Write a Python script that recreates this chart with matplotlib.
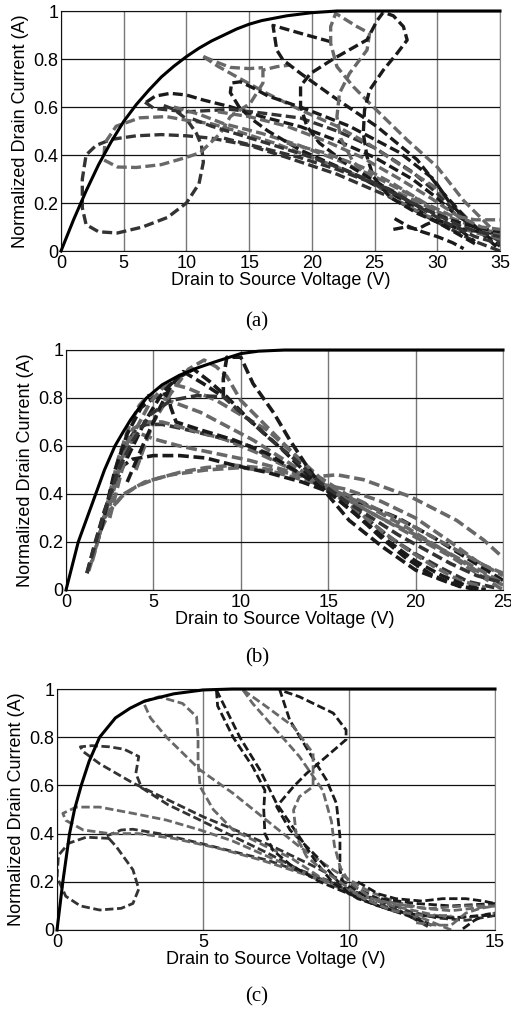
import numpy as np
import matplotlib.pyplot as plt

# -----------------------------
# Panel (a) data: V_DS (V) vs normalized I_D
# -----------------------------
a_solid_v = [0, 1, 2, 3, 4, 5, 6, 7, 8, 9, 10, 11, 12, 13, 14, 15, 16, 18, 20, 22, 35]
a_solid_i = [0, 0.13, 0.25, 0.36, 0.455, 0.54, 0.61, 0.67, 0.725, 0.77, 0.81, 0.845, 0.875, 0.9,
             0.925, 0.945, 0.96, 0.98, 0.993, 1, 1]

a_d1 = [(35, 0.0), (33, 0.04), (30, 0.12), (26, 0.23), (22, 0.32), (18, 0.39), (15, 0.44), (12, 0.47),
        (10, 0.48), (8, 0.485), (6, 0.48), (4, 0.465), (2.8, 0.44), (2, 0.4), (1.7, 0.3), (1.7, 0.18),
        (2, 0.11), (3, 0.08), (4.5, 0.075), (6.5, 0.1), (8.5, 0.14), (10, 0.2), (11, 0.28), (11.35, 0.37),
        (11.2, 0.44), (10.8, 0.49), (10, 0.55), (9, 0.59), (8, 0.61)]
a_g1 = [(35, 0.07), (33, 0.1), (31, 0.14), (27, 0.24), (22, 0.35), (17, 0.45), (14, 0.5), (12, 0.53),
        (10, 0.545), (8.4, 0.56), (6.3, 0.555), (4.4, 0.52), (3.5, 0.45), (3.4, 0.38), (4.5, 0.35),
        (6, 0.348), (8, 0.36), (10, 0.39), (11.1, 0.41), (12.7, 0.49), (13.5, 0.56), (15.1, 0.616),
        (16.1, 0.7), (16.1, 0.754), (17.2, 0.768), (18.3, 0.775)]
a_d2 = [(6.8, 0.62), (7.5, 0.645), (8.7, 0.657), (10, 0.65), (11.35, 0.629), (13.5, 0.601), (16, 0.56),
        (19.1, 0.518), (22, 0.46), (25, 0.39), (28, 0.3), (30, 0.22), (31.5, 0.15), (33, 0.1), (35, 0.06)]
a_d2b = [(6.7, 0.62), (7.4, 0.594), (10, 0.58), (13.5, 0.59), (16, 0.575), (19.1, 0.554), (22, 0.5),
         (25, 0.43), (28, 0.33), (30, 0.24), (31.5, 0.16), (33, 0.1), (35, 0.04)]
a_g2 = [(11.35, 0.81), (12.5, 0.77), (14, 0.726), (16.4, 0.657), (19.1, 0.5875), (22, 0.52), (24.4, 0.45),
        (27, 0.36), (29.7, 0.27), (31.5, 0.18), (33.1, 0.1), (35, 0.07)]
a_g2b = [(11.35, 0.81), (12.5, 0.785), (13.5, 0.765), (15, 0.76), (16.1, 0.764)]
a_g3 = [(9, 0.6), (11, 0.57), (13, 0.53), (16, 0.49), (19, 0.44), (22, 0.38), (25, 0.31), (28, 0.23),
        (31, 0.13), (33, 0.08), (35, 0.05)]
a_d3 = [(33, 0.03), (30, 0.12), (27, 0.22), (23, 0.33), (19.1, 0.42), (16.5, 0.5), (15.3, 0.546),
        (14.2, 0.6), (13.5, 0.66), (13.6, 0.7), (14.3, 0.705), (15.3, 0.68), (16.5, 0.646), (19.6, 0.59),
        (23, 0.52), (27, 0.41), (29.7, 0.3), (31, 0.2), (32.3, 0.13), (35, 0.02)]
a_d4 = [(21.5, 0.872), (19.1, 0.907), (16.9, 0.94), (17.2, 0.8375), (17.7, 0.796), (19.1, 0.74),
        (21.7, 0.643), (25.2, 0.518), (28.4, 0.38), (30.5, 0.24), (32.4, 0.13), (34.7, 0.018)]
a_g4 = [(34.2, 0.1), (32.1, 0.21), (30, 0.35), (27.6, 0.4625), (24.9, 0.6), (23.3, 0.685), (22, 0.768),
        (21.5, 0.865), (21.5, 0.935), (21.9, 0.99), (23.6, 0.935), (24.6, 0.907), (24.4, 0.8375),
        (23, 0.74), (22.2, 0.657), (22, 0.56), (22.3, 0.47), (23.2, 0.38), (24.5, 0.3), (26.5, 0.22),
        (29, 0.15), (31.5, 0.1), (33.5, 0.07), (35, 0.06)]
a_d5 = [(33.5, 0.08), (32, 0.09), (30, 0.12), (28.4, 0.157), (26.2, 0.225), (24.9, 0.31), (24.4, 0.393),
        (24.1, 0.49), (24.2, 0.5875), (24.6, 0.67), (25.7, 0.754), (26.8, 0.824), (27.6, 0.879),
        (27.3, 0.935), (26.5, 0.98), (25.7, 0.995), (25.2, 0.96), (24.4, 0.88), (21.7, 0.8), (19.9, 0.74),
        (19.1, 0.6875), (19.1, 0.604), (19.6, 0.52), (20.6, 0.45), (23, 0.354), (25.7, 0.27),
        (28.4, 0.1875), (31, 0.13), (33, 0.1), (35, 0.08)]
a_d6 = [(26.5, 0.09), (27.5, 0.1), (28.4, 0.09), (29.1, 0.11), (30, 0.13), (31, 0.11), (32, 0.08), (33, 0.04)]
a_d7 = [(26.6, 0.135), (27.6, 0.105), (28.8, 0.08), (30, 0.06), (31.2, 0.035), (32.1, 0.01)]
a_d8 = [(10.5, 0.55), (12, 0.52), (14.5, 0.48), (17, 0.44), (20, 0.39), (23, 0.33), (26, 0.26),
        (29, 0.17), (31, 0.11), (33, 0.06), (35, 0.03)]
a_g5 = [(12.5, 0.58), (15, 0.56), (18, 0.52), (21, 0.46), (24, 0.39), (27, 0.3), (29.5, 0.22),
        (31.5, 0.15), (33.5, 0.1), (35, 0.09)]
a_d9 = [(13, 0.47), (16, 0.43), (19, 0.39), (22, 0.34), (25, 0.28), (28, 0.2), (30, 0.15), (32, 0.1),
        (34, 0.07), (35, 0.06)]
a_g6 = [(18, 0.45), (21, 0.41), (24, 0.35), (26.5, 0.28), (29, 0.2), (31, 0.15), (33, 0.13), (35, 0.13)]

# -----------------------------
# Panel (b) data
# -----------------------------
b_solid_v = [0, 0.35, 0.7, 1.2, 1.7, 2.2, 2.8, 3.2, 3.7, 4.1, 4.6, 5.5, 6.5, 7.5, 8.5, 10, 11, 12.5, 25]
b_solid_i = [0, 0.1, 0.2, 0.3, 0.4, 0.5, 0.6, 0.65, 0.71, 0.75, 0.8, 0.855, 0.895, 0.925, 0.95, 0.985,
             0.995, 1, 1]

b_c1 = [(2.0, 0.25), (2.5, 0.33), (3.2, 0.39), (4, 0.43), (5, 0.46), (6.5, 0.49), (8, 0.51), (9.6, 0.52),
        (11, 0.51), (12.5, 0.49), (14, 0.47), (15.5, 0.48), (17, 0.46), (19.7, 0.389), (22.35, 0.29),
        (23.9, 0.208), (25, 0.135)]
b_c2 = [(2.2, 0.3), (2.6, 0.34), (3.3, 0.4), (4.5, 0.45), (6, 0.48), (8, 0.5), (10, 0.51), (12, 0.49),
        (14, 0.45), (16, 0.42), (18, 0.37), (20, 0.3), (22, 0.2), (23.5, 0.12), (25, 0.06)]
b_c3 = [(1.2, 0.07), (1.6, 0.18), (2.2, 0.33), (2.8, 0.44), (3.3, 0.52), (3.8, 0.545), (5, 0.56),
        (6.5, 0.56), (8, 0.55), (9.6, 0.52), (11.5, 0.49), (13.5, 0.45), (15, 0.41), (17, 0.36),
        (19, 0.3), (21, 0.22), (23, 0.13), (25, 0.04)]
b_c4 = [(1.5, 0.12), (2.0, 0.25), (2.6, 0.4), (3.2, 0.55), (3.8, 0.63), (4.3, 0.65), (5, 0.63),
        (6.5, 0.6), (8.5, 0.57), (10.5, 0.54), (12.5, 0.5), (14, 0.46), (15.5, 0.41), (17.5, 0.34),
        (19.5, 0.26), (21.5, 0.17), (23.5, 0.08), (25, 0.02)]
b_c5 = [(1.8, 0.2), (2.5, 0.4), (3.2, 0.58), (4, 0.67), (4.6, 0.69), (5.5, 0.69), (6.5, 0.675),
        (8.5, 0.64), (10.5, 0.6), (12.5, 0.52), (14, 0.46), (15.5, 0.39), (17, 0.31), (18.5, 0.22),
        (20, 0.15), (21.5, 0.09), (23, 0.035), (24.5, 0.01)]
b_c6 = [(2.5, 0.35), (3.2, 0.55), (3.8, 0.67), (4.5, 0.7), (5.5, 0.7), (7, 0.67), (9, 0.63), (11, 0.57),
        (13, 0.5), (14.5, 0.44), (16, 0.38), (18, 0.3), (20, 0.22), (22, 0.14), (23.5, 0.07), (25, 0.0)]
b_c7 = [(1.3, 0.08), (1.8, 0.2), (2.4, 0.37), (3, 0.55), (3.6, 0.68), (4.2, 0.77), (4.7, 0.81),
        (5.5, 0.8), (7.7, 0.74), (10.7, 0.625), (13.4, 0.5), (15, 0.42), (16.5, 0.34), (18, 0.25),
        (19.5, 0.17), (21, 0.1), (22.5, 0.04), (24, 0.01)]
b_c8 = [(2.0, 0.25), (2.8, 0.5), (3.5, 0.65), (4.3, 0.76), (5, 0.8), (5.8, 0.82), (6.0, 0.76),
        (6.3, 0.7), (7.7, 0.667), (9.6, 0.625), (11.5, 0.57), (13.5, 0.48), (15, 0.41), (16.5, 0.32),
        (18, 0.22), (19.5, 0.13), (21, 0.06), (22.5, 0.015), (24, 0.0)]
b_c9 = [(2.5, 0.3), (3.2, 0.5), (4, 0.67), (4.8, 0.78), (5.5, 0.84), (6, 0.86), (7, 0.84), (8.6, 0.79),
        (10, 0.73), (11.5, 0.667), (13, 0.57), (14.5, 0.46), (16, 0.38), (18, 0.3), (20, 0.23),
        (22, 0.15), (24, 0.07), (25, 0.03)]
b_c10 = [(3.5, 0.55), (4.5, 0.7), (5.5, 0.82), (6.3, 0.88), (7.3, 0.92), (8.2, 0.87), (9.2, 0.805),
         (10.5, 0.708), (12.4, 0.583), (14, 0.47), (15.5, 0.38), (17, 0.29), (18.5, 0.2), (20, 0.12),
         (21.5, 0.06), (23, 0.015), (24, 0.0)]
b_c11 = [(4, 0.5), (5, 0.7), (6, 0.82), (7, 0.92), (7.9, 0.958), (8.6, 0.93), (9.2, 0.89), (10, 0.79),
         (11.5, 0.68), (13, 0.57), (14.5, 0.47), (16, 0.4), (18, 0.33), (20, 0.26), (22, 0.18),
         (24, 0.1), (25, 0.07)]
b_c12 = [(3.5, 0.45), (4.5, 0.62), (5.4, 0.764), (6.0, 0.85), (6.7, 0.91), (7.85, 0.86), (9.0, 0.805),
         (9.0, 0.88), (9.2, 0.97), (10.0, 0.97), (10.7, 0.86), (11.9, 0.736), (12.8, 0.625),
         (13.8, 0.514), (14.9, 0.403), (16.2, 0.29), (18.1, 0.18), (20, 0.083), (22, 0.028), (23.5, 0.0)]
b_c13 = [(1.2, 0.07), (1.7, 0.2), (2.3, 0.35), (3, 0.5), (3.8, 0.62), (4.8, 0.73), (6, 0.79),
         (7.5, 0.81), (9.0, 0.805), (10.3, 0.72), (11.5, 0.64), (13, 0.55), (14.5, 0.45), (16, 0.37),
         (17.5, 0.3), (19, 0.23), (20.5, 0.17), (22, 0.11), (23.5, 0.06), (25, 0.03)]

# -----------------------------
# Panel (c) data
# -----------------------------
c_solid_v = [0, 0.2, 0.43, 0.6, 0.83, 1.1, 1.46, 2, 2.5, 3, 4, 5, 6, 15]
c_solid_i = [0, 0.2, 0.4, 0.5, 0.6, 0.7, 0.8, 0.88, 0.92, 0.95, 0.98, 0.996, 1, 1]

c_c1 = [(1.8, 0.38), (1.0, 0.385), (0.4, 0.36), (0.05, 0.31), (0, 0.22), (0.3, 0.14), (0.8, 0.1),
        (1.46, 0.083), (2.2, 0.09), (2.6, 0.11), (2.8, 0.17), (2.6, 0.25), (2.03, 0.346), (1.7, 0.39),
        (2.2, 0.415), (2.6, 0.418), (3.5, 0.4), (4.9, 0.36), (7.2, 0.29), (9.46, 0.194), (10.6, 0.124),
        (12.3, 0.055), (12.9, 0.014)]
c_c2 = [(12.7, 0.014), (11.7, 0.083), (10.6, 0.14), (9.4, 0.2), (8.3, 0.25), (7.2, 0.32), (6, 0.39),
        (4.9, 0.456), (3.8, 0.52), (2.9, 0.59), (2.7, 0.65), (2.8, 0.72), (2.3, 0.75), (1.8, 0.76),
        (1.2, 0.765), (0.8, 0.76), (0.9, 0.74), (1.46, 0.69), (2.6, 0.61), (3.8, 0.54), (5, 0.47),
        (6.2, 0.41), (7.5, 0.34), (8.7, 0.27), (10, 0.19), (11, 0.13), (12, 0.08), (13, 0.05),
        (14, 0.04), (15, 0.06)]
c_c3 = [(12, 0.1), (10.5, 0.14), (9, 0.21), (7.5, 0.29), (6, 0.37), (4.9, 0.415), (3.75, 0.456),
        (2.6, 0.484), (1.46, 0.51), (0.66, 0.51), (0.2, 0.484), (0.3, 0.455), (0.9, 0.415), (1.8, 0.4),
        (2.8, 0.4), (4, 0.38), (5.5, 0.34), (7, 0.29), (8.5, 0.23), (10, 0.16), (11.5, 0.1), (13, 0.06),
        (14, 0.05), (15, 0.07)]
c_c4 = [(13.5, 0.0), (12.5, 0.05), (11, 0.1), (10, 0.15), (9, 0.22), (8, 0.3), (7.17, 0.346),
        (6.03, 0.415), (5.35, 0.5), (4.9, 0.595), (4.83, 0.7), (4.83, 0.8), (4.78, 0.885), (4.3, 0.94),
        (3.5, 0.968), (2.95, 0.947), (3.2, 0.88), (3.75, 0.8), (4.9, 0.664), (6.03, 0.567),
        (7.17, 0.456), (8.3, 0.346), (9.46, 0.249), (10.6, 0.166), (11.5, 0.12), (12.5, 0.09),
        (13.5, 0.08), (15, 0.1)]
c_c5 = [(5.46, 0.996), (5.8, 0.913), (6.26, 0.8), (6.95, 0.664), (7.52, 0.525), (8.3, 0.387),
        (8.9, 0.277), (9.46, 0.194), (10.3, 0.13), (11.5, 0.08), (12.5, 0.06), (13.5, 0.05),
        (14.5, 0.06), (15, 0.06)]
c_c5b = [(5.46, 0.996), (5.5, 0.93), (6.03, 0.8), (6.7, 0.678), (7.12, 0.58), (7.08, 0.5), (7.12, 0.4),
         (7.4, 0.33), (8, 0.27), (9, 0.2), (10, 0.15), (11, 0.1), (12, 0.06), (12.8, 0.02)]
c_c6 = [(10, 0.15), (9.58, 0.207), (8.9, 0.304), (7.98, 0.415), (7.52, 0.512), (8.1, 0.595),
        (8.55, 0.65), (9.23, 0.72), (9.9, 0.79), (9.9, 0.83), (9.46, 0.9), (8.3, 0.968), (7.63, 0.996),
        (7.97, 0.871), (8.66, 0.733), (9.23, 0.622), (9.57, 0.525), (9.69, 0.387), (9.69, 0.249),
        (9.8, 0.194), (10.6, 0.138), (12.3, 0.11), (13.5, 0.1), (15, 0.11)]
c_c7 = [(6.37, 0.996), (7.17, 0.927), (8.1, 0.844), (8.77, 0.733), (8.77, 0.595), (8.3, 0.553),
        (8.1, 0.498), (8.2, 0.387), (8.55, 0.304), (9.1, 0.249), (9.8, 0.19), (10.5, 0.13), (11.5, 0.08),
        (12.5, 0.06), (13.5, 0.06)]
c_c8 = [(6.37, 0.996), (6.7, 0.94), (7.5, 0.83), (8.3, 0.72), (9.1, 0.58), (9.4, 0.45), (9.5, 0.35),
        (9.7, 0.26), (10, 0.2), (10.8, 0.13), (11.8, 0.1), (12.8, 0.09), (14, 0.1), (15, 0.1)]
c_c11 = [(10.3, 0.2), (11.0, 0.15), (11.6, 0.13), (12.5, 0.12), (13.2, 0.13), (14, 0.13), (14.6, 0.12), (15, 0.11)]
c_c12 = [(12.3, 0.03), (13, 0.02), (13.5, 0.02), (14, 0.07), (14.5, 0.09), (15, 0.1)]
c_c13 = [(13.9, 0.005), (14.3, 0.04), (14.7, 0.065), (15, 0.07)]

# -----------------------------
# Styles
# -----------------------------
DARK = "#1a1a1a"
MID = "#333333"
GRAY = "#686868"

a_curves = [(a_d1, MID), (a_g1, GRAY), (a_d2, DARK), (a_d2b, MID), (a_g2, GRAY), (a_g2b, GRAY),
            (a_g3, GRAY), (a_d3, DARK), (a_d4, DARK), (a_g4, GRAY), (a_d5, DARK), (a_d6, DARK),
            (a_d7, DARK), (a_d8, MID), (a_g5, GRAY), (a_d9, MID), (a_g6, GRAY)]
b_curves = [(b_c1, GRAY), (b_c2, GRAY), (b_c3, DARK), (b_c4, GRAY), (b_c5, MID), (b_c6, GRAY),
            (b_c7, GRAY), (b_c8, DARK), (b_c9, GRAY), (b_c10, DARK), (b_c11, GRAY), (b_c12, DARK),
            (b_c13, MID)]
c_curves = [(c_c1, MID), (c_c2, MID), (c_c3, GRAY), (c_c4, GRAY), (c_c5, DARK), (c_c5b, DARK),
            (c_c6, DARK), (c_c7, GRAY), (c_c8, GRAY), (c_c11, DARK), (c_c12, GRAY), (c_c13, DARK)]

panels = [
    # axes rect, xmax, solid, curves, dashed lw, caption, caption y
    ([61 / 511, 1 - 251 / 1010, 439 / 511, 240 / 1010], 35, (a_solid_v, a_solid_i), a_curves, 2.4, "(a)", 1 - 322 / 1010),
    ([66 / 511, 1 - 590 / 1010, 437 / 511, 240 / 1010], 25, (b_solid_v, b_solid_i), b_curves, 2.6, "(b)", 1 - 658 / 1010),
    ([57 / 511, 1 - 930 / 1010, 438 / 511, 241 / 1010], 15, (c_solid_v, c_solid_i), c_curves, 2.0, "(c)", 1 - 997 / 1010),
]

plt.rcParams["font.family"] = ["Liberation Sans", "DejaVu Sans"]

fig = plt.figure(figsize=(5.11, 10.10), dpi=100)

for rect, xmax, solid, curves, lw, caption, cap_y in panels:
    ax = fig.add_axes(rect)
    ax.set_xlim(0, xmax)
    ax.set_ylim(0, 1)
    ax.set_xticks(np.arange(0, xmax + 1, 5))
    ax.set_yticks([0, 0.2, 0.4, 0.6, 0.8, 1])
    ax.set_yticklabels(["0", "0.2", "0.4", "0.6", "0.8", "1"])
    ax.tick_params(length=0, labelsize=13)
    ax.tick_params(axis="x", pad=3)
    ax.tick_params(axis="y", pad=2)
    ax.yaxis.grid(True, color="#111111", lw=0.9)
    ax.xaxis.grid(True, color="#777777", lw=1.0)
    ax.set_axisbelow(True)
    for side in ["left", "bottom", "top"]:
        ax.spines[side].set_color("#111111")
    ax.spines["right"].set_color("#888888")

    for pts, col in curves:
        v = [p[0] for p in pts]
        i = [p[1] for p in pts]
        ax.plot(v, i, color=col, lw=lw, ls=(0, (3.0, 1.3)), dash_capstyle="butt")

    ax.plot(solid[0], solid[1], color="black", lw=2.2, clip_on=False, zorder=5)

    ax.set_xlabel("Drain to Source Voltage (V)", fontsize=13, labelpad=0)
    ax.set_ylabel("Normalized Drain Current (A)", fontsize=13, labelpad=3)
    fig.text(0.503, cap_y, caption, ha="center", va="center", fontsize=15, family="Liberation Serif")

fig.savefig("out.png", dpi=100)
